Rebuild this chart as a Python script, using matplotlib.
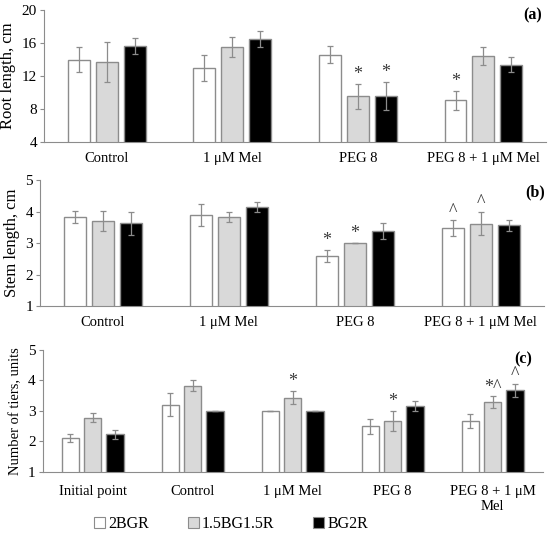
import numpy as np
import matplotlib
matplotlib.use('Agg')
import matplotlib.pyplot as plt
from matplotlib.patches import Patch

plt.rcParams['font.family'] = ['Liberation Serif', 'DejaVu Serif']

series = ['2BGR', '1.5BG1.5R', 'BG2R']
colores = ['white', '#d9d9d9', 'black']

# (a) longitud de raiz
grupos_a = ['Control', '1 μM Mel', 'PEG 8', 'PEG 8 + 1 μM Mel']
raiz = [[14.0, 13.0, 14.6, 9.05],
        [13.7, 15.5, 9.55, 14.45],
        [15.65, 16.5, 9.6, 13.4]]
raiz_err = [[1.55, 1.55, 1.0, 1.16],
            [2.4, 1.2, 1.5, 1.05],
            [1.0, 1.0, 1.67, 0.95]]
raiz_marcas = [['', '', '', '*'],
               ['', '', '*', ''],
               ['', '', '*', '']]

# (b) longitud de tallo
grupos_b = ['Control', '1 μM Mel', 'PEG 8', 'PEG 8 + 1 μM Mel']
tallo = [[3.83, 3.89, 2.59, 3.48],
         [3.71, 3.84, 3.0, 3.62],
         [3.63, 4.15, 3.39, 3.56]]
tallo_err = [[0.18, 0.34, 0.19, 0.24],
             [0.32, 0.16, 0.0, 0.37],
             [0.36, 0.17, 0.25, 0.18]]
tallo_marcas = [['', '', '*', '^'],
                ['', '', '*', '^'],
                ['', '', '', '']]

# (c) numero de pisos
grupos_c = ['Initial point', 'Control', '1 μM Mel', 'PEG 8', 'PEG 8 + 1 μM\nMel']
pisos = [[2.12, 3.2, 3.0, 2.49, 2.67],
         [2.78, 3.83, 3.43, 2.67, 3.28],
         [2.23, 3.0, 3.0, 3.17, 3.67]]
pisos_err = [[0.14, 0.38, 0.0, 0.23, 0.22],
             [0.15, 0.18, 0.22, 0.33, 0.2],
             [0.15, 0.0, 0.0, 0.17, 0.22]]
pisos_marcas = [['', '', '', '', ''],
                ['', '', '*', '*', '*^'],
                ['', '', '', '', '^']]

gris = '#8c8c8c'
ancho = 0.175
paso = 0.222


def graficarPanel(ax, grupos, valores, errores, marcas, ylim, yticks, ylabel, tamLabel, padX=7):
    x = np.arange(len(grupos))
    for i in range(3):
        pos = x + (i - 1) * paso
        ax.bar(pos, valores[i], width=ancho, color=colores[i], edgecolor=gris,
               linewidth=1.0, zorder=2)
        ax.errorbar(pos, valores[i], yerr=errores[i], fmt='none', ecolor=gris,
                    elinewidth=0.9, capsize=2.5, capthick=0.9, zorder=3)
        for j, m in enumerate(marcas[i]):
            if m:
                ax.annotate(m, (pos[j], valores[i][j] + errores[i][j]),
                            xytext=(0, 0.5), textcoords='offset points',
                            ha='center', va='bottom', fontsize=13, color='#3a3a3a')
    ax.set_xlim(-0.5, len(grupos) - 0.5)
    ax.set_ylim(*ylim)
    ax.set_yticks(yticks)
    ax.set_xticks(x)
    ax.set_xticklabels(grupos, fontsize=10.5, linespacing=1.25)
    ax.tick_params(axis='x', length=0, pad=padX)
    ax.tick_params(axis='y', labelsize=11, length=3, color=gris, pad=2)
    for lado in ['top', 'right']:
        ax.spines[lado].set_visible(False)
    ax.spines['left'].set_color(gris)
    ax.spines['bottom'].set_color(gris)
    ax.set_ylabel(ylabel, fontsize=tamLabel, labelpad=4)


fig = plt.figure(figsize=(5.5, 5.36), dpi=100)
ax_a = fig.add_axes([0.080, 0.735, 0.913, 0.246])
ax_b = fig.add_axes([0.0727, 0.429, 0.916, 0.235])
ax_c = fig.add_axes([0.0776, 0.1194, 0.909, 0.228])

graficarPanel(ax_a, grupos_a, raiz, raiz_err, raiz_marcas, (4, 20), [4, 8, 12, 16, 20],
              'Root length, cm', 12)
graficarPanel(ax_b, grupos_b, tallo, tallo_err, tallo_marcas, (1, 5), [1, 2, 3, 4, 5],
              'Stem length, cm', 12)
graficarPanel(ax_c, grupos_c, pisos, pisos_err, pisos_marcas, (1, 5), [1, 2, 3, 4, 5],
              'Number of tiers, units', 10.5, padX=9)

ax_a.text(0.974, 0.962, '(a)', transform=ax_a.transAxes, ha='center', va='center',
          fontsize=11.5, fontweight='bold')
ax_b.text(0.983, 0.905, '(b)', transform=ax_b.transAxes, ha='center', va='center',
          fontsize=11.5, fontweight='bold')
ax_c.text(0.961, 0.918, '(c)', transform=ax_c.transAxes, ha='center', va='center',
          fontsize=11.5, fontweight='bold')

manijas = [Patch(facecolor=colores[i], edgecolor=gris, linewidth=0.8) for i in range(3)]
fig.legend(manijas, series, loc='center', bbox_to_anchor=(0.42, 0.022), ncol=3,
           frameon=False, fontsize=11.5, handlelength=0.7, handleheight=0.7,
           handletextpad=0.2, columnspacing=2.4)

plt.savefig('out.png', dpi=100)
